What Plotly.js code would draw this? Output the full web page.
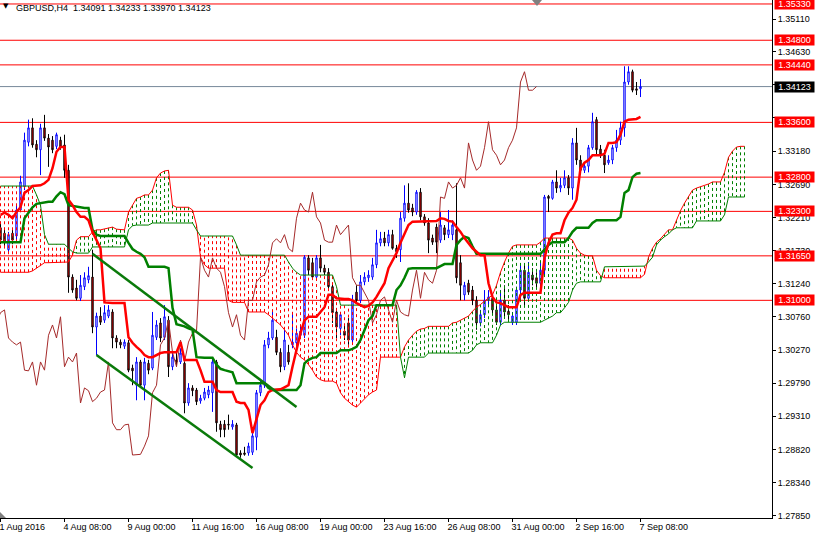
<!DOCTYPE html>
<html><head><meta charset="utf-8">
<script src="https://cdn.plot.ly/plotly-3.0.1.min.js"></script>
<style>html,body{margin:0;padding:0;background:#fff;overflow:hidden}#chart{width:815px;height:536px}</style>
</head><body><div id="chart"></div>
<script>
// ---------------- DATA ----------------
const symbolTitle = 'GBPUSD,H4';
const lastOHLC = ['1.34091', '1.34233', '1.33970', '1.34123'];

const xTickBars = [0, 16, 32, 48, 64, 80, 96, 112, 128, 144, 160];
const xTickLabels = ['1 Aug 2016', '4 Aug 08:00', '9 Aug 00:00', '11 Aug 16:00', '16 Aug 08:00', '19 Aug 00:00',
  '23 Aug 16:00', '26 Aug 08:00', '31 Aug 00:00', '2 Sep 16:00', '7 Sep 08:00'];

const yTickVals = [1.3511, 1.3463, 1.3415, 1.3367, 1.3318, 1.3269, 1.3221, 1.3173, 1.3124, 1.3076, 1.3027, 1.2979, 1.2931, 1.2882, 1.2834, 1.2785];
const yTickLabels = ['1.35110', '1.34630', '', '', '1.33180', '1.32690', '1.32210', '1.31730', '1.31240', '1.30760', '1.30270', '1.29790', '1.29310', '1.28820', '1.28340', '1.27850'];

const levelPrices = [1.3533, 1.3480, 1.3444, 1.3360, 1.3280, 1.3230, 1.3165, 1.3100];
const levelLabels = ['1.35330', '1.34800', '1.34440', '1.33600', '1.32800', '1.32300', '1.31650', '1.31000'];
const currentPrice = 1.34123;
const currentLabel = '1.34123';

const opens = [
1.3206,1.3198,1.3174,1.3198,1.3194,1.3232,1.3266,1.3331,1.3352,1.3328,
1.3320,1.3352,1.3337,1.3334,1.3325,1.3334,1.3327,1.3290,1.3134,1.3118,
1.3103,1.3120,1.3130,1.3134,1.3061,1.3077,1.3071,1.3077,1.3083,1.3045,
1.3039,1.3033,1.3038,1.3001,1.2976,1.3010,1.2976,1.3008,1.3001,1.3046,
1.3067,1.3046,1.3071,1.3003,1.3013,1.3010,1.3008,1.2950,1.2972,1.2969,
1.2953,1.2957,1.2962,1.2965,1.3010,1.2919,1.2919,1.2919,1.2915,1.2918,
1.2877,1.2877,1.2877,1.2878,1.2900,1.2965,1.2976,1.3035,1.3045,1.3046,
1.3024,1.3003,1.3024,1.3035,1.3038,1.3049,1.3049,1.3162,1.3155,1.3134,
1.3162,1.3147,1.3141,1.3120,1.3083,1.3059,1.3055,1.3067,1.3042,1.3112,
1.3100,1.3127,1.3133,1.3134,1.3152,1.3184,1.3191,1.3184,1.3196,1.3176,
1.3174,1.3220,1.3242,1.3235,1.3229,1.3258,1.3222,1.3213,1.3191,1.3207,
1.3188,1.3206,1.3196,1.3196,1.3203,1.3155,1.3108,1.3125,1.3115,1.3100,
1.3067,1.3079,1.3100,1.3103,1.3086,1.3068,1.3100,1.3084,1.3068,1.3068,
1.3115,1.3144,1.3103,1.3137,1.3133,1.3125,1.3144,1.3252,1.3249,1.3273,
1.3264,1.3268,1.3279,1.3264,1.3330,1.3305,1.3290,1.3296,1.3323,1.3364,
1.3321,1.3312,1.3301,1.3305,1.3323,1.3334,1.3352,1.3419,1.3434,1.3409,
1.34091];
const highs = [
1.3215,1.3206,1.3200,1.3204,1.3239,1.3282,1.3345,1.3364,1.3366,1.3334,
1.3358,1.3371,1.3343,1.3340,1.3345,1.3339,1.3342,1.3298,1.3138,1.3130,
1.3137,1.3141,1.3149,1.3174,1.3082,1.3090,1.3093,1.3093,1.3087,1.3049,
1.3043,1.3043,1.3042,1.3006,1.3017,1.3013,1.3016,1.3013,1.3083,1.3071,
1.3074,1.3093,1.3077,1.3024,1.3023,1.3030,1.3013,1.2979,1.2976,1.2972,
1.2962,1.2972,1.2975,1.3017,1.3013,1.2924,1.2925,1.2933,1.2925,1.2921,
1.2881,1.2886,1.2892,1.2906,1.2969,1.2984,1.3042,1.3054,1.3086,1.3057,
1.3030,1.3057,1.3035,1.3083,1.3059,1.3062,1.3166,1.3166,1.3162,1.3166,
1.3181,1.3152,1.3147,1.3125,1.3089,1.3083,1.3064,1.3074,1.3108,1.3122,
1.3137,1.3141,1.3144,1.3162,1.3203,1.3200,1.3200,1.3203,1.3203,1.3181,
1.3229,1.3268,1.3271,1.3241,1.3261,1.3264,1.3226,1.3220,1.3196,1.3212,
1.3229,1.3210,1.3232,1.3217,1.3271,1.3166,1.3127,1.3130,1.3121,1.3106,
1.3086,1.3115,1.3115,1.3108,1.3093,1.3115,1.3122,1.3093,1.3083,1.3120,
1.3152,1.3152,1.3156,1.3147,1.3141,1.3156,1.3254,1.3254,1.3276,1.3290,
1.3279,1.3290,1.3283,1.3337,1.3352,1.3312,1.3302,1.3327,1.3374,1.3368,
1.3327,1.3320,1.3312,1.3327,1.3349,1.3361,1.3442,1.3442,1.3437,1.3419,
1.34233];
const lows = [
1.3182,1.3176,1.3169,1.3182,1.3188,1.3229,1.3261,1.3325,1.3323,1.3309,
1.3283,1.3333,1.3295,1.3315,1.3321,1.3320,1.3279,1.3111,1.3111,1.3100,
1.3099,1.3115,1.3125,1.3052,1.3020,1.3064,1.3067,1.3074,1.3030,1.3030,
1.3030,1.3029,1.2995,1.2976,1.2954,1.2972,1.2954,1.2992,1.2998,1.3042,
1.3039,1.3042,1.2988,1.2998,1.3003,1.3007,1.2935,1.2946,1.2960,1.2947,
1.2949,1.2954,1.2957,1.2937,1.2908,1.2900,1.2900,1.2911,1.2911,1.2871,
1.2870,1.2873,1.2873,1.2874,1.2881,1.2960,1.2972,1.3030,1.3042,1.3020,
1.2995,1.2998,1.3006,1.3030,1.3033,1.3045,1.3045,1.3137,1.3130,1.3130,
1.3141,1.3137,1.3115,1.3067,1.3045,1.3049,1.3042,1.3035,1.3038,1.3096,
1.3096,1.3122,1.3127,1.3130,1.3147,1.3179,1.3179,1.3179,1.3174,1.3162,
1.3156,1.3215,1.3228,1.3223,1.3225,1.3217,1.3209,1.3169,1.3181,1.3169,
1.3184,1.3188,1.3191,1.3188,1.3125,1.3100,1.3100,1.3108,1.3093,1.3057,
1.3062,1.3074,1.3093,1.3079,1.3064,1.3064,1.3074,1.3071,1.3064,1.3064,
1.3100,1.3093,1.3100,1.3122,1.3118,1.3121,1.3137,1.3229,1.3247,1.3257,
1.3258,1.3264,1.3254,1.3247,1.3298,1.3286,1.3286,1.3287,1.3320,1.3312,
1.3308,1.3286,1.3298,1.3299,1.3317,1.3327,1.3339,1.3415,1.3404,1.3400,
1.33970];
const closes = [
1.3188,1.3185,1.3196,1.3188,1.3232,1.3273,1.3334,1.3352,1.3327,1.3320,
1.3352,1.3337,1.3324,1.3320,1.3342,1.3324,1.3290,1.3134,1.3115,1.3103,
1.3122,1.3133,1.3136,1.3061,1.3077,1.3068,1.3082,1.3086,1.3045,1.3039,
1.3035,1.3039,1.2998,1.2997,1.3010,1.2976,1.3010,1.2998,1.3049,1.3064,
1.3045,1.3076,1.3003,1.3017,1.3010,1.3023,1.2950,1.2972,1.2968,1.2952,
1.2957,1.2966,1.2969,1.3010,1.2921,1.2911,1.2911,1.2918,1.2919,1.2874,
1.2874,1.2875,1.2887,1.2902,1.2965,1.2976,1.3035,1.3045,1.3071,1.3024,
1.3003,1.3042,1.3010,1.3039,1.3052,1.3055,1.3163,1.3144,1.3134,1.3162,
1.3147,1.3141,1.3120,1.3082,1.3061,1.3079,1.3049,1.3042,1.3100,1.3100,
1.3127,1.3134,1.3137,1.3152,1.3184,1.3190,1.3184,1.3196,1.3176,1.3171,
1.3220,1.3242,1.3232,1.3229,1.3258,1.3222,1.3213,1.3188,1.3185,1.3185,
1.3210,1.3196,1.3203,1.3210,1.3133,1.3122,1.3122,1.3112,1.3100,1.3067,
1.3079,1.3100,1.3105,1.3086,1.3068,1.3100,1.3083,1.3079,1.3077,1.3115,
1.3144,1.3103,1.3141,1.3130,1.3125,1.3144,1.3251,1.3249,1.3273,1.3264,
1.3268,1.3279,1.3264,1.3330,1.3305,1.3290,1.3296,1.3323,1.3361,1.3320,
1.3312,1.3298,1.3305,1.3323,1.3334,1.3352,1.3419,1.3434,1.3407,1.3407,
1.34123];

// Ichimoku Tenkan-sen (red thick)
const tenkan = [
1.3225,1.3228,1.3225,1.3220,1.3229,1.3236,1.3257,1.3261,1.3267,1.3267,
1.3268,1.3271,1.3276,1.3293,1.3317,1.3324,1.3324,1.3247,1.3239,1.3229,
1.3222,1.3222,1.3217,1.3200,1.3188,1.3176,1.3097,1.3096,1.3096,1.3096,
1.3096,1.3096,1.3046,1.3038,1.3032,1.3027,1.3020,1.3017,1.3017,1.3020,
1.3023,1.3024,1.3024,1.3024,1.3024,1.3039,1.3013,1.3013,1.3013,1.3013,
1.2998,1.2981,1.2981,1.2981,1.2969,1.2966,1.2966,1.2966,1.2966,1.2952,
1.2950,1.2950,1.2940,1.2906,1.2928,1.2947,1.2954,1.2966,1.2969,1.2970,
1.2970,1.2973,1.2976,1.3003,1.3027,1.3052,1.3071,1.3076,1.3076,1.3076,
1.3083,1.3090,1.3108,1.3108,1.3103,1.3102,1.3102,1.3102,1.3100,1.3096,
1.3093,1.3090,1.3092,1.3097,1.3105,1.3115,1.3125,1.3147,1.3159,1.3169,
1.3184,1.3196,1.3210,1.3215,1.3215,1.3215,1.3215,1.3215,1.3215,1.3216,
1.3220,1.3219,1.3216,1.3215,1.3207,1.3200,1.3191,1.3184,1.3176,1.3171,
1.3166,1.3166,1.3125,1.3105,1.3097,1.3096,1.3093,1.3090,1.3090,1.3090,
1.3108,1.3111,1.3111,1.3111,1.3111,1.3111,1.3162,1.3184,1.3196,1.3198,
1.3198,1.3217,1.3228,1.3235,1.3247,1.3293,1.3301,1.3305,1.3312,1.3312,
1.3312,1.3314,1.3330,1.3330,1.3331,1.3342,1.3361,1.3364,1.3364,1.3365,
1.3368];

// Ichimoku Kijun-sen (green thick)
const kijun = [
1.3185,1.3185,1.3185,1.3185,1.3185,1.3185,1.3220,1.3229,1.3236,1.3241,
1.3242,1.3244,1.3244,1.3244,1.3252,1.3258,1.3255,1.3239,1.3238,1.3236,
1.3236,1.3235,1.3235,1.3203,1.3196,1.3194,1.3194,1.3194,1.3194,1.3194,
1.3194,1.3194,1.3184,1.3175,1.3171,1.3168,1.3163,1.3149,1.3149,1.3149,
1.3149,1.3149,1.3147,1.3089,1.3065,1.3064,1.3062,1.3059,1.3057,1.3017,
1.3016,1.3016,1.3016,1.3016,1.3006,1.3000,1.2998,1.2997,1.2995,1.2979,
1.2979,1.2979,1.2979,1.2979,1.2979,1.2979,1.2979,1.2972,1.2969,1.2969,
1.2969,1.2969,1.2969,1.2969,1.2969,1.2976,1.3008,1.3013,1.3016,1.3017,
1.3023,1.3023,1.3023,1.3023,1.3023,1.3027,1.3027,1.3027,1.3029,1.3032,
1.3042,1.3057,1.3071,1.3077,1.3093,1.3093,1.3093,1.3093,1.3093,1.3115,
1.3122,1.3133,1.3146,1.3147,1.3147,1.3147,1.3147,1.3147,1.3147,1.3147,
1.3150,1.3153,1.3153,1.3153,1.3181,1.3188,1.3193,1.3191,1.3179,1.3168,
1.3168,1.3168,1.3168,1.3168,1.3168,1.3168,1.3168,1.3168,1.3168,1.3168,
1.3168,1.3168,1.3168,1.3168,1.3168,1.3168,1.3174,1.3181,1.3185,1.3185,
1.3185,1.3185,1.3191,1.3200,1.3206,1.3206,1.3206,1.3206,1.3213,1.3217,
1.3217,1.3217,1.3217,1.3217,1.3217,1.3222,1.3257,1.3261,1.3280,1.3285,
1.3286];

// Senkou Span A (thin red), drawn 26 bars ahead
const senkouA = [
1.3141,1.3141,1.3141,1.3141,1.3141,1.3141,1.3141,1.3141,1.3143,1.3147,
1.3150,1.3155,1.3155,1.3155,1.3155,1.3155,1.3155,1.3156,1.3166,1.3188,
1.3193,1.3193,1.3193,1.3200,1.3203,1.3203,1.3204,1.3206,1.3207,1.3204,
1.3203,1.3203,1.3229,1.3239,1.3249,1.3251,1.3254,1.3254,1.3261,1.3279,
1.3286,1.3289,1.3290,1.3239,1.3236,1.3236,1.3236,1.3236,1.3232,1.3210,
1.3163,1.3152,1.3147,1.3147,1.3147,1.3147,1.3147,1.3100,1.3097,1.3097,
1.3097,1.3097,1.3083,1.3083,1.3083,1.3083,1.3083,1.3079,1.3074,1.3068,
1.3064,1.3057,1.3049,1.3035,1.3024,1.3017,1.3013,1.3006,1.2998,1.2988,
1.2984,1.2982,1.2982,1.2982,1.2979,1.2965,1.2957,1.2952,1.2947,1.2944,
1.2950,1.2957,1.2962,1.2966,1.2969,1.3017,1.3017,1.3017,1.3017,1.3017,
1.3017,1.3032,1.3042,1.3049,1.3055,1.3058,1.3059,1.3062,1.3062,1.3062,
1.3062,1.3062,1.3062,1.3067,1.3068,1.3071,1.3074,1.3077,1.3084,1.3090,
1.3094,1.3099,1.3103,1.3108,1.3122,1.3141,1.3156,1.3169,1.3179,1.3181,
1.3181,1.3181,1.3181,1.3181,1.3181,1.3185,1.3191,1.3191,1.3191,1.3191,
1.3191,1.3191,1.3191,1.3188,1.3176,1.3169,1.3166,1.3165,1.3165,1.3144,
1.3136,1.3133,1.3133,1.3133,1.3133,1.3133,1.3133,1.3133,1.3133,1.3133,
1.3133,1.3138,1.3163,1.3176,1.3185,1.3190,1.3196,1.3203,1.3203,1.3217,
1.3231,1.3242,1.3252,1.3261,1.3264,1.3266,1.3267,1.3270,1.3273,1.3273,
1.3273,1.3287,1.3309,1.3318,1.3324,1.3325,1.3325];

// Senkou Span B (thin green), drawn 26 bars ahead
const senkouB = [
1.3267,1.3267,1.3267,1.3267,1.3267,1.3267,1.3267,1.3267,1.3267,1.3254,
1.3239,1.3196,1.3182,1.3182,1.3182,1.3182,1.3182,1.3176,1.3171,1.3169,
1.3169,1.3169,1.3169,1.3178,1.3178,1.3178,1.3178,1.3178,1.3178,1.3178,
1.3178,1.3178,1.3203,1.3209,1.3210,1.3210,1.3210,1.3210,1.3213,1.3213,
1.3213,1.3213,1.3213,1.3213,1.3213,1.3213,1.3213,1.3213,1.3213,1.3203,
1.3194,1.3194,1.3194,1.3194,1.3194,1.3194,1.3194,1.3194,1.3194,1.3181,
1.3166,1.3166,1.3166,1.3166,1.3166,1.3166,1.3166,1.3166,1.3166,1.3166,
1.3166,1.3166,1.3156,1.3147,1.3141,1.3137,1.3137,1.3137,1.3137,1.3137,
1.3137,1.3137,1.3137,1.3137,1.3120,1.3093,1.3093,1.3093,1.3093,1.3093,
1.3093,1.3093,1.3093,1.3093,1.3093,1.3093,1.3093,1.3093,1.3093,1.3093,
1.3017,1.2987,1.3017,1.3017,1.3017,1.3017,1.3017,1.3023,1.3023,1.3023,
1.3023,1.3023,1.3023,1.3023,1.3023,1.3023,1.3023,1.3023,1.3027,1.3035,
1.3038,1.3038,1.3038,1.3038,1.3049,1.3064,1.3068,1.3068,1.3068,1.3068,
1.3068,1.3068,1.3068,1.3068,1.3068,1.3068,1.3071,1.3074,1.3077,1.3082,
1.3082,1.3089,1.3097,1.3115,1.3125,1.3127,1.3127,1.3127,1.3127,1.3127,
1.3127,1.3149,1.3149,1.3149,1.3149,1.3149,1.3149,1.3149,1.3149,1.3149,
1.3149,1.3150,1.3156,1.3163,1.3181,1.3188,1.3193,1.3197,1.3203,1.3206,
1.3206,1.3206,1.3206,1.3206,1.3216,1.3216,1.3216,1.3216,1.3216,1.3216,
1.3216,1.3225,1.3251,1.3251,1.3251,1.3251,1.3251];

const chikouShift = 26;

// channel trend lines (bar index, price)
const channelUpperBars = [23, 74];
const channelUpperPrices = [1.3168, 1.2944];
const channelLowerBars = [24, 63];
const channelLowerPrices = [1.3020, 1.2855];

// ---------------- BUILD ----------------
const FONT = 'Liberation Sans, Arial, sans-serif';
const bars = closes.map((_, i) => i);
const cloudBars = senkouA.map((_, i) => i);

const hatchRed = {x: [], y: []}, hatchGreen = {x: [], y: []};
for (let i = 0; i < senkouA.length; i++) {
  const t = senkouB[i] > senkouA[i] ? hatchRed : hatchGreen;
  t.x.push(i, i, null);
  t.y.push(senkouA[i], senkouB[i], null);
}

const traces = [
  {type: 'scatter', mode: 'lines', x: hatchRed.x, y: hatchRed.y, line: {color: '#ff0000', width: 1, dash: '3px,3px'}, hoverinfo: 'skip', showlegend: false},
  {type: 'scatter', mode: 'lines', x: hatchGreen.x, y: hatchGreen.y, line: {color: '#008000', width: 1, dash: '3px,3px'}, hoverinfo: 'skip', showlegend: false},
  {type: 'candlestick', x: bars, open: opens, high: highs, low: lows, close: closes,
    increasing: {line: {color: '#0000ff', width: 1}, fillcolor: '#ffffff'},
    decreasing: {line: {color: '#000000', width: 1}, fillcolor: '#ff0000'},
    whiskerwidth: 0, hoverinfo: 'skip', showlegend: false},
  {type: 'scatter', mode: 'lines', x: cloudBars, y: senkouA, line: {color: '#ff0000', width: 1}, hoverinfo: 'skip', showlegend: false},
  {type: 'scatter', mode: 'lines', x: cloudBars, y: senkouB, line: {color: '#008000', width: 1}, hoverinfo: 'skip', showlegend: false},
  {type: 'scatter', mode: 'lines', x: bars.map(i => i - chikouShift), y: closes, line: {color: '#a52a2a', width: 1}, hoverinfo: 'skip', showlegend: false},
  {type: 'scatter', mode: 'lines', x: bars, y: kijun, line: {color: '#008000', width: 2.5}, hoverinfo: 'skip', showlegend: false},
  {type: 'scatter', mode: 'lines', x: bars, y: tenkan, line: {color: '#ff0000', width: 2.5}, hoverinfo: 'skip', showlegend: false},
  {type: 'scatter', mode: 'lines', x: channelUpperBars, y: channelUpperPrices, line: {color: '#0a7a0a', width: 2.5}, hoverinfo: 'skip', showlegend: false},
  {type: 'scatter', mode: 'lines', x: channelLowerBars, y: channelLowerPrices, line: {color: '#0a7a0a', width: 2.5}, hoverinfo: 'skip', showlegend: false}
];

const shapes = levelPrices.map(p => ({type: 'line', xref: 'paper', x0: 0, x1: 1, yref: 'y', y0: p, y1: p, line: {color: '#ff0000', width: 1}, layer: 'below'}));
shapes.push({type: 'line', xref: 'paper', x0: 0, x1: 1, yref: 'y', y0: currentPrice, y1: currentPrice, line: {color: '#778899', width: 1}, layer: 'below'});
shapes.push({type: 'path', xref: 'paper', yref: 'paper', path: 'M 0.6891 1 L 0.7021 1 L 0.6956 0.9884 Z', fillcolor: '#808080', line: {width: 0}});
shapes.push({type: 'path', xref: 'paper', yref: 'paper', path: 'M 0 0 L 0 0.0116 L 0.0078 0 Z', fillcolor: '#808080', line: {width: 0}});

const annotations = levelPrices.map((p, i) => ({
  xref: 'paper', x: 1, xanchor: 'left', xshift: 2, yref: 'y', y: p, yanchor: 'middle',
  text: levelLabels[i], showarrow: false, bgcolor: '#ff0000', width: 39, height: 10, borderpad: 0, align: 'center',
  font: {family: FONT, size: 9, color: '#ffffff'}
}));
annotations.push({
  xref: 'paper', x: 1, xanchor: 'left', xshift: 2, yref: 'y', y: currentPrice, yanchor: 'middle',
  text: currentLabel, showarrow: false, bgcolor: '#000000', width: 39, height: 10, borderpad: 0, align: 'center',
  font: {family: FONT, size: 9, color: '#ffffff'}
});
annotations.push({
  xref: 'paper', x: 0, xanchor: 'left', xshift: 14, yref: 'paper', y: 1, yanchor: 'top', yshift: -1,
  text: symbolTitle + '&nbsp; ' + lastOHLC.join(' '), showarrow: false,
  font: {family: FONT, size: 9, color: '#000000'}
});
annotations.push({
  xref: 'paper', x: 0, xanchor: 'left', xshift: 1, yref: 'paper', y: 1, yanchor: 'top', yshift: 0,
  text: '▼', showarrow: false, font: {family: 'DejaVu Sans', size: 7, color: '#000000'}
});

const layout = {
  width: 815, height: 536,
  margin: {l: 0, r: 43, t: 0, b: 18, pad: 0},
  paper_bgcolor: '#ffffff', plot_bgcolor: '#ffffff',
  showlegend: false,
  boxgap: 0.5,
  font: {family: FONT, size: 9, color: '#000000'},
  xaxis: {
    range: [-0.125, 192.875], showgrid: false, zeroline: false, showline: true, linecolor: '#000000', linewidth: 1,
    ticks: 'outside', ticklen: 3, tickcolor: '#000000', tickvals: xTickBars, ticktext: xTickLabels,
    ticklabelposition: 'outside right', ticklabelshift: -2, ticklabeloverflow: 'allow',
    tickfont: {family: FONT, size: 9, color: '#000000'},
    rangeslider: {visible: false}, fixedrange: true
  },
  yaxis: {
    side: 'right', range: [1.27820, 1.35388], showgrid: false, zeroline: false, showline: true,
    linecolor: '#000000', linewidth: 1, ticks: 'outside', ticklen: 3, tickcolor: '#000000',
    tickvals: yTickVals, ticktext: yTickLabels, tickfont: {family: FONT, size: 9, color: '#000000'}, fixedrange: true
  },
  shapes: shapes,
  annotations: annotations
};

Plotly.newPlot('chart', traces, layout, {staticPlot: true, displayModeBar: false});
</script>
</body></html>
